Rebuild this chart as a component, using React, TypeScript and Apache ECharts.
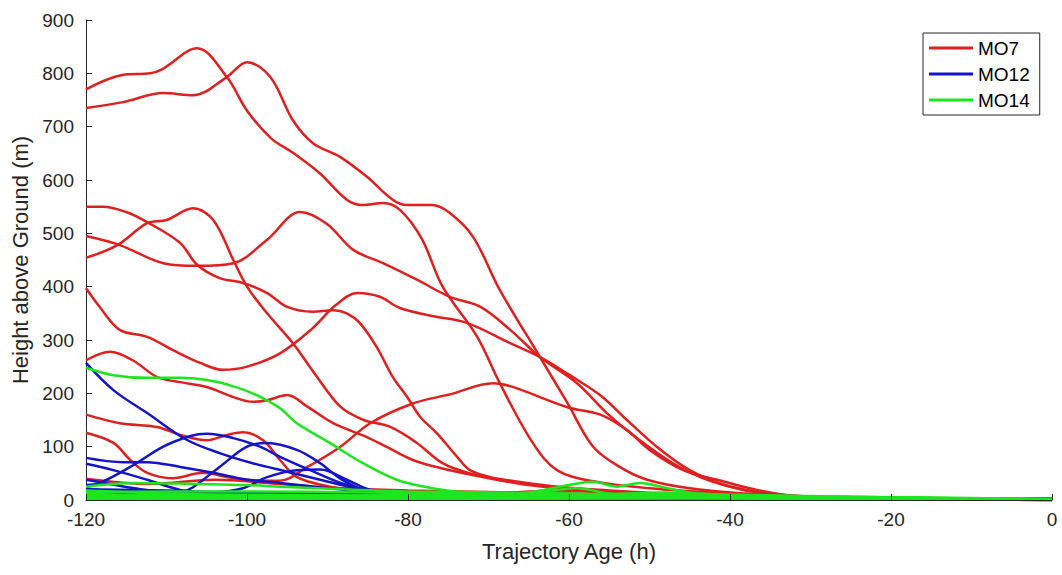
import React, { useEffect, useRef } from "react";
import * as echarts from "echarts";

// Trajectory Age (h) ticks
const xTicks = [-120, -100, -80, -60, -40, -20, 0];
const yTicks = [0, 100, 200, 300, 400, 500, 600, 700, 800, 900];

// MO7 trajectories [age h, height m]
const mo7_a = [[-120,770],[-115.5,797],[-112,800],[-110.5,808],[-106.2,847],[-102.5,793],[-100,730],[-97,678],[-94.3,651],[-91,613],[-87.6,563],[-85.6,553],[-83.1,557],[-81,544],[-78.3,490],[-75.7,400],[-71.4,306],[-68.6,219],[-64.5,107],[-61.5,56],[-57,35],[-50,22],[-40,12],[-30,5],[-15,2],[0,0]];
const mo7_b = [[-120,735],[-115.4,746],[-110.4,763],[-106.7,759],[-102.5,793],[-100,821],[-97.1,793],[-94.3,712],[-91.8,669],[-88.4,643],[-85.1,606],[-81.9,563],[-80.1,553],[-77,553],[-74.8,538],[-71.9,493],[-68.6,394],[-63.6,268],[-60.2,182],[-57,100],[-53.7,62],[-50.3,38],[-45,22],[-38,12],[-30,5],[-15,2],[0,0]];
const mo7_c = [[-120,550],[-117.9,550],[-115,540],[-112.4,521],[-108.3,482],[-106.2,441],[-103.4,416],[-100.5,407],[-97.5,388],[-95,362],[-91.8,353],[-89.3,356],[-87.6,350],[-86,332],[-83.9,287],[-81.9,231],[-80.1,193],[-78.5,156],[-76.4,125],[-73.9,81],[-72.3,56],[-69,40],[-65,30],[-60,22],[-50,12],[-40,6],[-30,3],[0,0]];
const mo7_d = [[-120,495],[-115.8,478],[-110.4,444],[-106.2,439],[-101.7,444],[-97.5,488],[-93.4,540],[-90.1,518],[-86.8,469],[-83.1,444],[-78.9,413],[-74.8,381],[-71,362],[-67.3,319],[-63.6,268],[-59,219],[-55.3,163],[-51.2,112],[-47.1,69],[-43.7,43],[-40,25],[-36,13],[-30,6],[-15,2],[0,0]];
const mo7_e = [[-120,454],[-116.1,478],[-112.4,519],[-110,525],[-106.7,547],[-104.2,525],[-101.7,450],[-100,400],[-97.5,350],[-94.3,294],[-91.5,235],[-88.4,175],[-85.5,150],[-82.2,137],[-78.9,107],[-75.7,69],[-72.3,50],[-68,38],[-62,26],[-55,18],[-45,10],[-35,5],[0,0]];
const mo7_f = [[-120,397],[-118.3,362],[-115.8,319],[-112.4,306],[-109.2,281],[-105.8,257],[-103,244],[-100,250],[-95.9,275],[-92,320],[-89,365],[-86.3,388],[-83.5,381],[-81,360],[-77,345],[-72.7,332],[-67.3,294],[-63.6,268],[-60,235],[-56,195],[-52.8,150],[-49.1,100],[-45,56],[-41,30],[-37,16],[-32,8],[-20,3],[0,0]];
const mo7_g = [[-120,262],[-117,278],[-114.2,262],[-111.2,231],[-108.3,221],[-105,212],[-101.7,193],[-99.3,184],[-97.5,187],[-95,197],[-92.5,175],[-89.3,144],[-85.1,118],[-82.6,99],[-79.4,75],[-76,60],[-70.7,43],[-65,28],[-58,18],[-50,12],[-40,6],[-30,3],[0,0]];
const mo7_h = [[-120,160],[-115.8,144],[-111.2,137],[-108.3,122],[-105,112],[-102.5,122],[-100.5,127],[-98,112],[-95.9,75],[-93.8,43],[-89.7,25],[-85.6,15],[-80,12],[-70,10],[-60,8],[-50,6],[-40,4],[0,0]];
const mo7_i = [[-120,126],[-116.6,107],[-114.5,75],[-112.4,51],[-109.2,41],[-105.5,51],[-102.5,43],[-100,38],[-96,36],[-92.5,62],[-88.4,100],[-84.7,144],[-79.4,181],[-74.8,198],[-69.4,219],[-67,212],[-60.2,174],[-56.1,160],[-52.8,131],[-50,94],[-45.8,56],[-41.6,38],[-37,20],[-32,8],[-20,3],[0,0]];
const mo7_j = [[-120,40],[-112,30],[-104,38],[-96,30],[-88,22],[-80,18],[-70,15],[-60,12],[-50,8],[-40,5],[0,0]];
const mo7_k = [[-120,10],[-100,12],[-80,14],[-70,12],[-62,18],[-55,14],[-48,10],[-40,6],[-30,3],[0,0]];

// MO12 trajectories
const mo12_a = [[-120,257],[-116.6,206],[-112.4,163],[-107.5,113],[-103.4,88],[-99.3,69],[-95,53],[-90.9,38],[-86.8,23],[-83.5,15],[-80,10],[-70,6],[-40,3],[0,1]];
const mo12_b = [[-120,28],[-118.3,32],[-114.5,62],[-110.4,100],[-107,120],[-105,124],[-101.7,116],[-98.4,100],[-95.9,81],[-92,55],[-88,30],[-84,15],[-80,10],[-70,6],[-50,4],[0,2]];
const mo12_c = [[-120,15],[-112,12],[-108,16],[-106.7,24],[-103.4,62],[-100,100],[-97.5,107],[-93.8,94],[-90.9,69],[-88.4,40],[-85.6,19],[-82,10],[-75,6],[-50,4],[0,2]];
const mo12_d = [[-120,20],[-110,18],[-104,15],[-100.5,22],[-97.5,43],[-93.8,56],[-90.9,57],[-87.6,38],[-84.7,19],[-80,10],[-70,6],[0,2]];
const mo12_e = [[-120,79],[-115.4,71],[-112.4,71],[-108.3,62],[-104.2,51],[-100,38],[-95.9,32],[-91.8,25],[-87.6,19],[-82,12],[-75,8],[0,2]];
const mo12_f = [[-120,68],[-116.6,56],[-112.4,38],[-108.3,19],[-104,12],[-95,10],[-85,8],[-75,6],[0,2]];
const mo12_g = [[-120,38],[-117,30],[-114,22],[-110,15],[-100,13],[-90,12],[-80,10],[-70,7],[0,2]];
const mo12_h = [[-120,22],[-115,12],[-110,8],[-100,5],[-90,4],[0,1]];

// MO14 trajectories
const mo14_a = [[-120,248],[-116.6,234],[-112.4,229],[-108.3,229],[-105,225],[-102.1,215],[-99.3,200],[-95.9,172],[-93.8,144],[-89.7,107],[-85.6,69],[-81.4,38],[-77.3,23],[-73.2,15],[-65,12],[-55,10],[-40,8],[-20,5],[0,2]];
const mo14_b = [[-120,25],[-114,32],[-106,30],[-100,28],[-95.9,25],[-88,20],[-80,16],[-70,14],[-60,12],[-50,10],[-40,8],[-20,5],[0,2]];
const mo14_c = [[-120,10],[-100,8],[-80,8],[-70,10],[-65,14],[-60,28],[-57,34],[-54,25],[-51.2,32],[-48,23],[-44,12],[-35,8],[-20,4],[0,1]];
const mo14_d = [[-120,5],[-100,4],[-80,5],[-68,8],[-62,18],[-59,22],[-55,12],[-50,8],[-40,5],[0,1]];
const mo14_e = [[-120,2],[-90,2],[-60,3],[-30,2],[0,0]];
const mo14_f = [[-120,15],[-100,16],[-85,14],[-75,12],[-65,10],[-45,12],[-40,10],[-25,6],[0,1]];
const mo14_g = [[-120,8],[-105,10],[-90,9],[-75,7],[-60,6],[-40,5],[-20,3],[0,0]];
const mo14_h = [[-120,4],[-100,6],[-80,3],[-60,4],[-45,6],[-30,3],[0,0]];
const mo14_i = [[-120,12],[-108,6],[-95,4],[-80,10],[-70,6],[-55,4],[-35,4],[0,1]];
const mo14_j = [[-120,18],[-110,12],[-95,8],[-80,6],[-60,8],[-48,14],[-42,8],[-25,4],[0,1]];

const groups = [
  { name: "MO7", color: "#e02020", lines: [mo7_a, mo7_b, mo7_c, mo7_d, mo7_e, mo7_f, mo7_g, mo7_h, mo7_i, mo7_j, mo7_k] },
  { name: "MO12", color: "#1414c8", lines: [mo12_a, mo12_b, mo12_c, mo12_d, mo12_e, mo12_f, mo12_g, mo12_h] },
  { name: "MO14", color: "#1ee61e", lines: [mo14_a, mo14_b, mo14_c, mo14_d, mo14_e, mo14_f, mo14_g, mo14_h, mo14_i, mo14_j] },
];

const FONT = "'Liberation Sans', Arial, sans-serif";
const INK = "#262626";

export default function App() {
  const ref = useRef<HTMLDivElement>(null);
  useEffect(() => {
    if (!ref.current) return;
    const chart = echarts.init(ref.current, undefined, { renderer: "svg" });
    const series: any[] = [];
    groups.forEach((g) => {
      g.lines.forEach((d) => {
        series.push({
          type: "line",
          name: g.name,
          data: d,
          smooth: 0.35,
          symbol: "none",
          showSymbol: false,
          lineStyle: { color: g.color, width: 2.5 },
          itemStyle: { color: g.color },
          emphasis: { disabled: true },
          silent: true,
        });
      });
    });
    chart.setOption({
      animation: false,
      backgroundColor: "#ffffff",
      grid: { left: 86, right: 10, top: 20, bottom: 75 },
      legend: {
        data: groups.map((g) => g.name),
        orient: "vertical",
        left: 923,
        top: 33,
        icon: "rect",
        itemWidth: 44,
        itemHeight: 3,
        itemGap: 6,
        padding: [5, 10, 5, 6],
        borderColor: INK,
        borderWidth: 1,
        backgroundColor: "#ffffff",
        textStyle: { fontFamily: FONT, fontSize: 19, color: "#000", lineHeight: 20 },
      },
      xAxis: {
        type: "value",
        min: xTicks[0],
        max: xTicks[xTicks.length - 1],
        interval: 20,
        name: "Trajectory Age (h)",
        nameLocation: "middle",
        nameGap: 40,
        nameTextStyle: { fontFamily: FONT, fontSize: 22, color: INK },
        axisLine: { show: true, onZero: false, lineStyle: { color: INK, width: 1 } },
        axisTick: { show: true, inside: true, length: 6, lineStyle: { color: INK } },
        axisLabel: { fontFamily: FONT, fontSize: 19, color: INK, margin: 10 },
        splitLine: { show: false },
        z: 10,
      },
      yAxis: {
        type: "value",
        min: yTicks[0],
        max: yTicks[yTicks.length - 1],
        interval: 100,
        name: "Height above Ground (m)",
        nameLocation: "middle",
        nameGap: 54,
        nameTextStyle: { fontFamily: FONT, fontSize: 22, color: INK },
        axisLine: { show: true, onZero: false, lineStyle: { color: INK, width: 1 } },
        axisTick: { show: true, inside: true, length: 6, lineStyle: { color: INK } },
        axisLabel: { fontFamily: FONT, fontSize: 19, color: INK, margin: 12 },
        splitLine: { show: false },
      },
      series,
    });
    return () => chart.dispose();
  }, []);
  return (
    <div
      ref={ref}
      style={{ position: "fixed", left: 0, top: 0, width: 1062, height: 575, background: "#fff" }}
    />
  );
}
